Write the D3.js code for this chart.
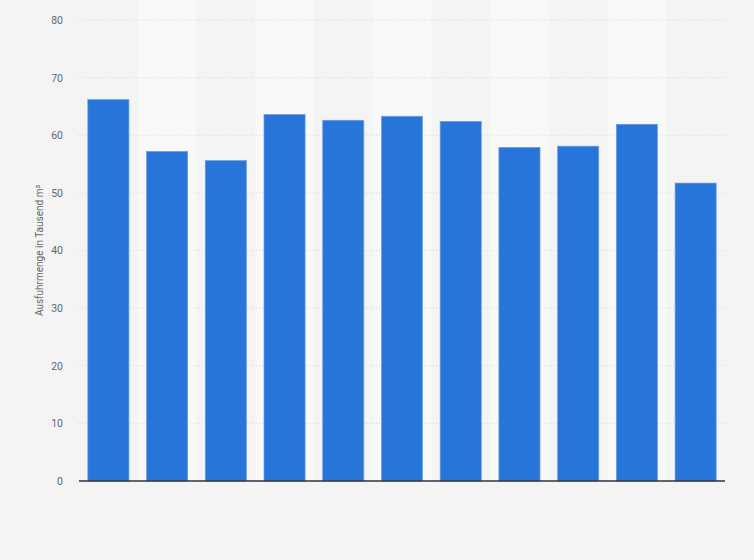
<!DOCTYPE html>
<html>
<head>
<meta charset="utf-8">
<script src="https://cdn.jsdelivr.net/npm/d3@7"></script>
<style>
  body { margin: 0; background: #f4f4f4; }
  svg { display: block; font-family: Roboto, Arial, sans-serif; }
</style>
</head>
<body>
<svg id="chart" width="754" height="560"></svg>
<script>
// one bar per category, no x labels shown in the original
const categories = ["1", "2", "3", "4", "5", "6", "7", "8", "9", "10", "11"];
const values = [66.2, 57.2, 55.6, 63.6, 62.6, 63.3, 62.4, 57.9, 58.1, 61.9, 51.7];
const yTicks = [0, 10, 20, 30, 40, 50, 60, 70, 80];

const margin = { top: 20, right: 29, bottom: 79, left: 79 };
const width = 754 - margin.left - margin.right;
const height = 560 - margin.top - margin.bottom;

const svg = d3.select("#chart");
svg.append("rect").attr("width", 754).attr("height", 560).attr("fill", "#f4f4f4");

const g = svg.append("g").attr("transform", `translate(${margin.left},${margin.top})`);

const x = d3.scaleBand().domain(categories).range([0, width]).paddingInner(0.3).paddingOuter(0.15);
const band = d3.scaleBand().domain(categories).range([0, width]);
const y = d3.scaleLinear().domain([0, 80]).range([height, 0]);

// alternating column shading
g.append("g")
  .selectAll("rect")
  .data(categories.filter((c, i) => i % 2 === 1))
  .join("rect")
  .attr("x", (d) => band(d))
  .attr("y", -margin.top)
  .attr("width", band.bandwidth())
  .attr("height", height + margin.top)
  .attr("fill", "#f9f9f9");

// grid
g.append("g")
  .selectAll("line")
  .data(yTicks.filter((t) => t > 0))
  .join("line")
  .attr("x1", 0)
  .attr("x2", width)
  .attr("y1", (d) => y(d))
  .attr("y2", (d) => y(d))
  .attr("stroke", "#d8d8d8")
  .attr("stroke-dasharray", "1,2");

// y axis
const yAxis = g.append("g")
  .call(d3.axisLeft(y).tickValues(yTicks).tickSize(0).tickPadding(16));
yAxis.select(".domain").remove();
yAxis.selectAll(".tick text")
  .attr("fill", "#666")
  .attr("font-size", 10.5)
  .attr("font-family", "Roboto, Arial, sans-serif");

// bars
g.append("g")
  .selectAll("rect")
  .data(values)
  .join("rect")
  .attr("x", (d, i) => x(categories[i]))
  .attr("y", (d) => y(d))
  .attr("width", x.bandwidth())
  .attr("height", (d) => height - y(d))
  .attr("fill", "#2775d9")
  .attr("stroke", "#6b9fe6")
  .attr("stroke-width", 0.7);

// baseline
g.append("line")
  .attr("x1", 0)
  .attr("x2", width)
  .attr("y1", height)
  .attr("y2", height)
  .attr("stroke", "#333")
  .attr("stroke-width", 1.5);

// axis title
svg.append("text")
  .attr("transform", `translate(43,${margin.top + height / 2}) rotate(-90)`)
  .attr("text-anchor", "middle")
  .attr("fill", "#666")
  .attr("font-size", 10)
  .text("Ausfuhrmenge in Tausend m³");
</script>
</body>
</html>
